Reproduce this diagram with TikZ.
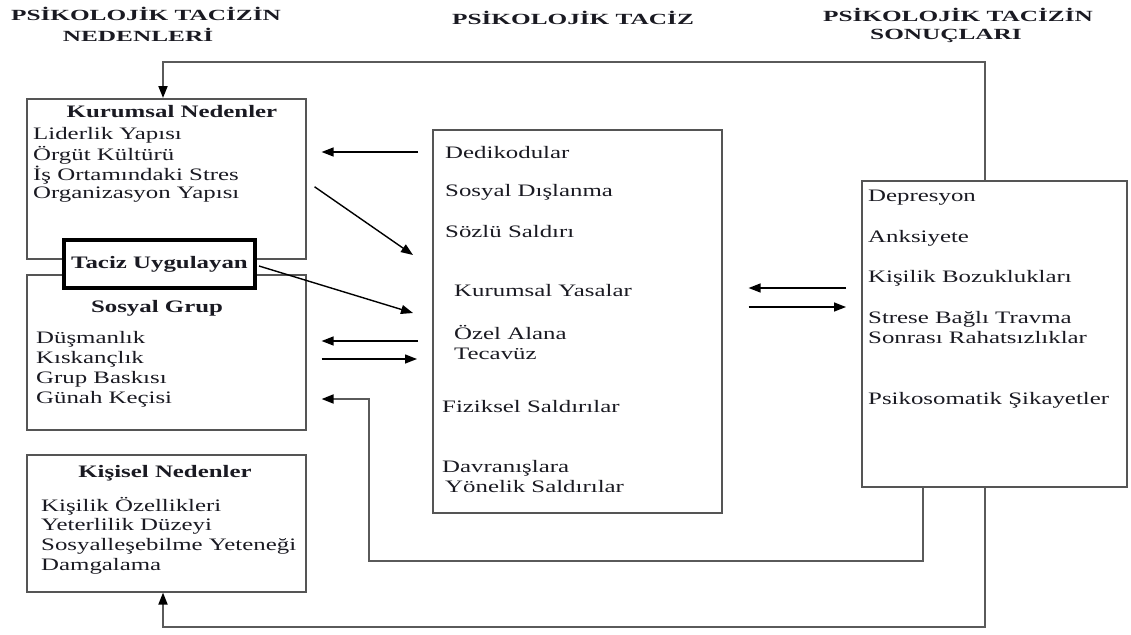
\documentclass[tikz,border=0pt]{standalone}
\usepackage{fontspec}
\setmainfont{Liberation Serif}[FakeStretch=1.42]
\newfontfamily\titlefont{Liberation Serif}[FakeStretch=1.63]
\usetikzlibrary{arrows.meta,calc}

\begin{document}
\begin{tikzpicture}[x=1pt,y=-1pt,
  >={Triangle[length=12pt,width=9pt]},
  box/.style={draw=boxgray,line width=1.6pt,anchor=north west,inner sep=0pt},
  txt/.style={anchor=west,inner sep=0pt,text=txtcol,align=left,font=\fontsize{17.5}{20}\selectfont},
  hd/.style={txt,anchor=center,font=\fontsize{17.5}{20}\selectfont\bfseries},
  ttl/.style={anchor=center,inner sep=0pt,text=txtcol,font=\titlefont\fontsize{15.5}{21}\selectfont\bfseries},
  arr/.style={->,line width=1.4pt,draw=black},
  fb/.style={-{Triangle[length=12pt,width=9pt,color=black]},line width=1.8pt,draw=linegray},
]
  \definecolor{boxgray}{HTML}{555555}
  \definecolor{linegray}{HTML}{5A5A5A}
  \definecolor{txtcol}{HTML}{1A1A22}
  \useasboundingbox (0,0) rectangle (1131,634);

  % column titles
  \node[ttl] (tL1) at (146,14) {PSİKOLOJİK TACİZİN};
  \node[ttl] (tL2) at (138,35) {NEDENLERİ};
  \node[ttl] (tM) at (573,18) {PSİKOLOJİK TACİZ};
  \node[ttl] (tR1) at (958,15) {PSİKOLOJİK TACİZİN};
  \node[ttl] (tR2) at (946,36) {SONUÇLARI};

  % causes (left column)
  \node[box,minimum width=279pt,minimum height=160pt] (kur) at (26,98) {};
  \node[box,minimum width=279pt,minimum height=155pt] (sos) at (26,274) {};
  \node[box,minimum width=279pt,minimum height=137pt] (kis) at (26,454) {};
  \node[draw=black,line width=4pt,fill=white,minimum width=191pt,minimum height=48pt,
        inner sep=0pt,font=\fontsize{17.5}{20}\selectfont\bfseries,text=txtcol] (taciz) at (159.5,264) {Taciz Uygulayan};

  \node[hd] (kurT) at (172,112) {Kurumsal Nedenler};
  \foreach \t [count=\i] in {Liderlik Yapısı,Örgüt Kültürü,İş Ortamındaki Stres,Organizasyon Yapısı}
    \node[txt] (kur\i) at (33,115+20*\i) {\t};
  \node[hd] (sosT) at (157,308) {Sosyal Grup};
  \foreach \t [count=\i] in {Düşmanlık,Kıskançlık,Grup Baskısı,Günah Keçisi}
    \node[txt] (sos\i) at (36,319+20*\i) {\t};
  \node[hd] (kisT) at (165,473) {Kişisel Nedenler};
  \foreach \t [count=\i] in {Kişilik Özellikleri,Yeterlilik Düzeyi,Sosyalleşebilme Yeteneği,Damgalama}
    \node[txt] (kis\i) at (41,486+20*\i) {\t};

  % harassment (middle column)
  \node[box,minimum width=289pt,minimum height=383pt] (mid) at (432,129) {};
  \node[txt] (ded) at (445,153) {Dedikodular};
  \node[txt] (dis) at (445,192) {Sosyal Dışlanma};
  \node[txt] (soz) at (445,232) {Sözlü Saldırı};
  \node[txt] (yas) at (454,291) {Kurumsal Yasalar};
  \node[txt] (oze) at (454,342) {Özel Alana\\Tecavüz};
  \node[txt] (fiz) at (442,407) {Fiziksel Saldırılar};
  \node[txt] (dav) at (442,477) {Davranışlara\\\hspace*{3pt}Yönelik Saldırılar};

  % consequences (right column)
  \node[box,minimum width=265pt,minimum height=306pt] (son) at (861,180) {};
  \node[txt] (dep) at (868,198) {Depresyon};
  \node[txt] (ank) at (868,238) {Anksiyete};
  \node[txt] (kb) at (868,278) {Kişilik Bozuklukları};
  \node[txt] (str) at (868,328) {Strese Bağlı Travma\\Sonrası Rahatsızlıklar};
  \node[txt] (psi) at (868,400) {Psikosomatik Şikayetler};

  % flows between columns
  \draw[arr,shorten <=14pt,shorten >=15pt] ([yshift=1pt]mid.west |- ded) -- ([yshift=1pt]kur.east |- ded);
  \draw[arr] ($(kur.east)+(8,8)$) -- ($(mid.west |- soz)+(-19,23)$);
  \draw[arr] ($(taciz.east)+(2,2)$) -- ($(mid.west |- yas)+(-19,22)$);
  \draw[arr,shorten <=14pt,shorten >=15pt] ([yshift=1pt]mid.west |- oze) -- ([yshift=1pt]sos.east |- oze);
  \draw[arr,shorten <=15pt,shorten >=15pt] ([yshift=-17pt]sos.east |- oze) -- ([yshift=-17pt]mid.west |- oze);
  \draw[arr,shorten <=15pt,shorten >=26pt] ([yshift=-10pt]son.west |- kb) -- ([yshift=-10pt]mid.east |- kb);
  \draw[arr,shorten <=26pt,shorten >=15pt] ([yshift=-29pt]mid.east |- kb) -- ([yshift=-29pt]son.west |- kb);

  % feedback loops
  \draw[fb] (son.north west -| 985,0) |- (163,62) -- (kur.north -| 163,0);
  \draw[fb] (son.south west -| 985,0) |- (163,627) -- (kis.south -| 163,0);
  \draw[fb] (son.south west -| 923,0) |- (369,561) |- ([xshift=15pt]sos.east |- sos4);
\end{tikzpicture}
\end{document}
